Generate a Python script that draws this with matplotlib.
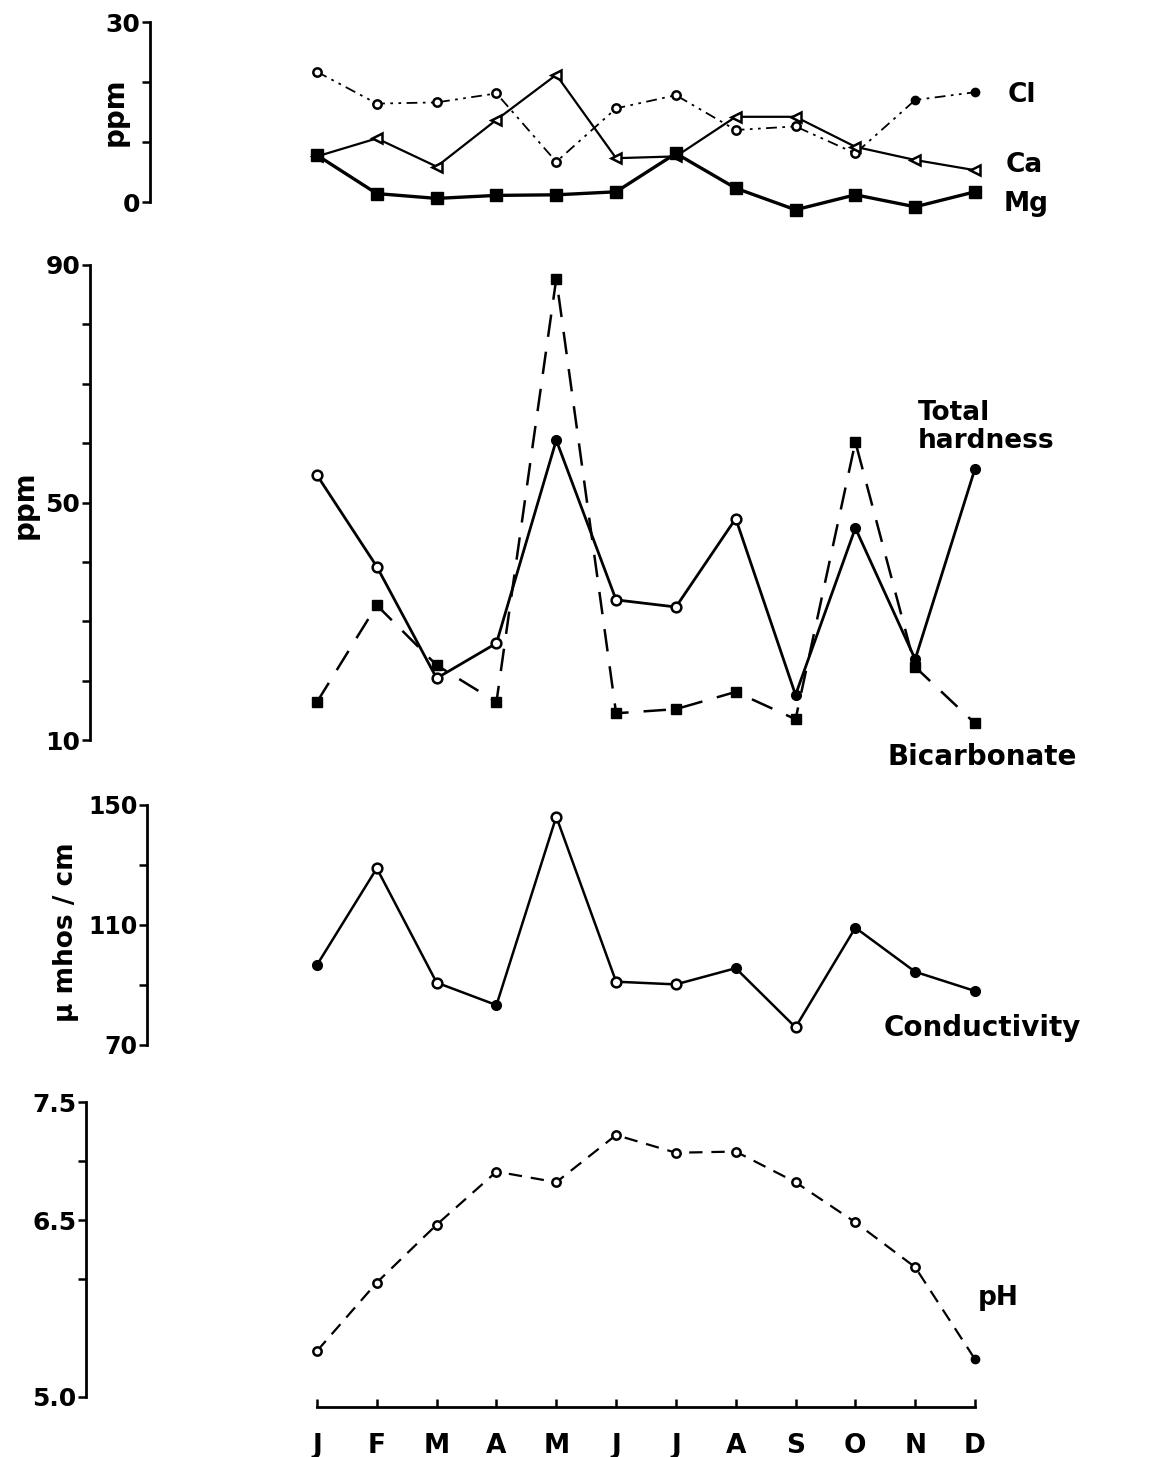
import numpy as np
import matplotlib
matplotlib.use("Agg")
import matplotlib.pyplot as plt

# Monatswerte
monate = ["J", "F", "M", "A", "M", "J", "J", "A", "S", "O", "N", "D"]

cl = [21.7, 16.4, 16.6, 18.1, 6.7, 15.6, 17.8, 12.0, 12.6, 8.1, 17.0, 18.3]
ca = [7.6, 10.6, 5.9, 13.7, 21.2, 7.3, 7.6, 14.2, 14.2, 9.2, 7.0, 5.3]
mg = [7.8, 1.4, 0.6, 1.1, 1.2, 1.7, 8.1, 2.3, -1.3, 1.2, -0.8, 1.7]

haerte = [54.6, 39.2, 20.4, 26.3, 60.5, 33.6, 32.4, 47.3, 17.6, 45.7, 23.6, 55.7]
bicarbonat = [16.4, 32.7, 22.6, 16.4, 87.7, 14.5, 15.2, 18.1, 13.5, 60.2, 22.3, 12.8]

leitf = [96.7, 128.9, 90.8, 83.3, 146.1, 91.1, 90.2, 95.6, 75.9, 109.1, 94.4, 88.0]
ph = [5.39, 5.97, 6.46, 6.91, 6.82, 7.22, 7.07, 7.08, 6.82, 6.48, 6.10, 5.32]

# welche Punkte gefuellt gezeichnet sind
cl_voll = [0, 0, 0, 0, 0, 0, 0, 0, 0, 0, 1, 1]
haerte_voll = [0, 0, 0, 0, 1, 0, 0, 0, 1, 1, 1, 1]
leitf_voll = [1, 0, 0, 1, 0, 0, 0, 1, 0, 1, 1, 1]
ph_voll = [0, 0, 0, 0, 0, 0, 0, 0, 0, 0, 0, 1]

W, H = 1170, 1457
X0, X1 = 317, 975
DX = (X1 - X0) / 11

plt.rcParams["font.family"] = "DejaVu Sans"
fig = plt.figure(figsize=(W / 100, H / 100), dpi=100)
fig.patch.set_facecolor("white")


def panel(links, oben, unten, rechts=1100):
    ax = fig.add_axes([links / W, 1 - unten / H, (rechts - links) / W, (unten - oben) / H])
    ax.set_xlim((links - X0) / DX, (rechts - X0) / DX)
    ax.patch.set_visible(False)
    for s in ["top", "right", "bottom"]:
        ax.spines[s].set_visible(False)
    ax.spines["left"].set_linewidth(2)
    ax.set_xticks([])
    ax.tick_params(axis="y", direction="out", length=6, width=1.8, labelsize=18, pad=1)
    return ax


def linie(ax, werte, voll=None, marker="o", ms=7, **kw):
    x = np.arange(len(werte))
    y = np.array(werte)
    ax.plot(x, y, color="black", clip_on=False, **kw)
    if voll is None:
        voll = [1] * len(werte)
    voll = np.array(voll, dtype=bool)
    ax.plot(x[~voll], y[~voll], ls="none", marker=marker, ms=ms, mfc="white",
            mec="black", mew=1.8, clip_on=False)
    ax.plot(x[voll], y[voll], ls="none", marker=marker, ms=ms, mfc="black",
            mec="black", clip_on=False)


def fett(ax):
    for lab in ax.get_yticklabels():
        lab.set_fontweight("bold")


def beschriftung(x, y, text, size=19, **kw):
    fig.text(x / W, 1 - y / H, text, fontsize=size, fontweight="bold", va="center", **kw)


# Panel 1: Cl, Ca, Mg
ax1 = panel(150, 22, 202)
ax1.set_ylim(0, 30)
ax1.set_yticks([0, 10, 20, 30])
ax1.set_yticklabels(["0", "", "", "30"])
fett(ax1)
linie(ax1, cl, cl_voll, marker="o", ms=6, lw=1.3, dashes=(6, 3, 1.5, 3, 1.5, 3))
linie(ax1, ca, [0] * 12, marker="<", ms=7, lw=1.6)
linie(ax1, mg, None, marker="s", ms=8, lw=2.4)

# Panel 2: Gesamthaerte und Bicarbonat
ax2 = panel(90, 265, 740)
ax2.set_ylim(10, 90)
ax2.set_yticks(np.arange(10, 91, 10))
ax2.set_yticklabels(["10", "", "", "", "50", "", "", "", "90"])
fett(ax2)
linie(ax2, bicarbonat, None, marker="s", ms=7, lw=1.8, dashes=(9, 6))
linie(ax2, haerte, haerte_voll, marker="o", ms=7, lw=2.0)

# Panel 3: Leitfaehigkeit
ax3 = panel(147, 805, 1045)
ax3.set_ylim(70, 150)
ax3.set_yticks([70, 90, 110, 130, 150])
ax3.set_yticklabels(["70", "", "110", "", "150"])
ax3.tick_params(axis="y", labelsize=17)
fett(ax3)
linie(ax3, leitf, leitf_voll, marker="o", ms=7, lw=1.8)

# Panel 4: pH
ax4 = panel(86, 1102, 1397)
ax4.set_ylim(5.0, 7.5)
ax4.set_yticks([5.0, 6.0, 6.5, 7.0, 7.5])
ax4.set_yticklabels(["5.0", "", "6.5", "", "7.5"])
fett(ax4)
linie(ax4, ph, ph_voll, marker="o", ms=6, lw=1.6, dashes=(6, 4))

# Monatsachse unten
axm = fig.add_axes([300 / W, 1 - 1407 / H, 700 / W, 30 / H])
axm.set_xlim((300 - X0) / DX, (1000 - X0) / DX)
axm.patch.set_visible(False)
for s in ["top", "right", "left"]:
    axm.spines[s].set_visible(False)
axm.spines["bottom"].set_bounds(0, 11)
axm.spines["bottom"].set_linewidth(2)
axm.set_yticks([])
axm.set_xticks(np.arange(12))
axm.set_xticklabels(monate)
axm.tick_params(axis="x", direction="in", length=6, width=1.8, labelsize=19, pad=19)
for lab in axm.get_xticklabels():
    lab.set_fontweight("bold")

# Achsentitel
beschriftung(115, 112, "ppm", size=20, ha="center", rotation=90)
beschriftung(25, 505, "ppm", size=20, ha="center", rotation=90)
beschriftung(66, 932, "\u03bc mhos / cm", size=19, ha="center", rotation=90)

# Reihennamen
beschriftung(1008, 95, "Cl", ha="left")
beschriftung(1006, 165, "Ca", ha="left")
beschriftung(1004, 204, "Mg", ha="left")
beschriftung(918, 427, "Total\nhardness", ha="left", linespacing=1.15)
beschriftung(888, 757, "Bicarbonate", size=20, ha="left")
beschriftung(884, 1028, "Conductivity", size=20, ha="left")
beschriftung(978, 1298, "pH", ha="left")

fig.savefig("out.png", dpi=100, facecolor="white")
